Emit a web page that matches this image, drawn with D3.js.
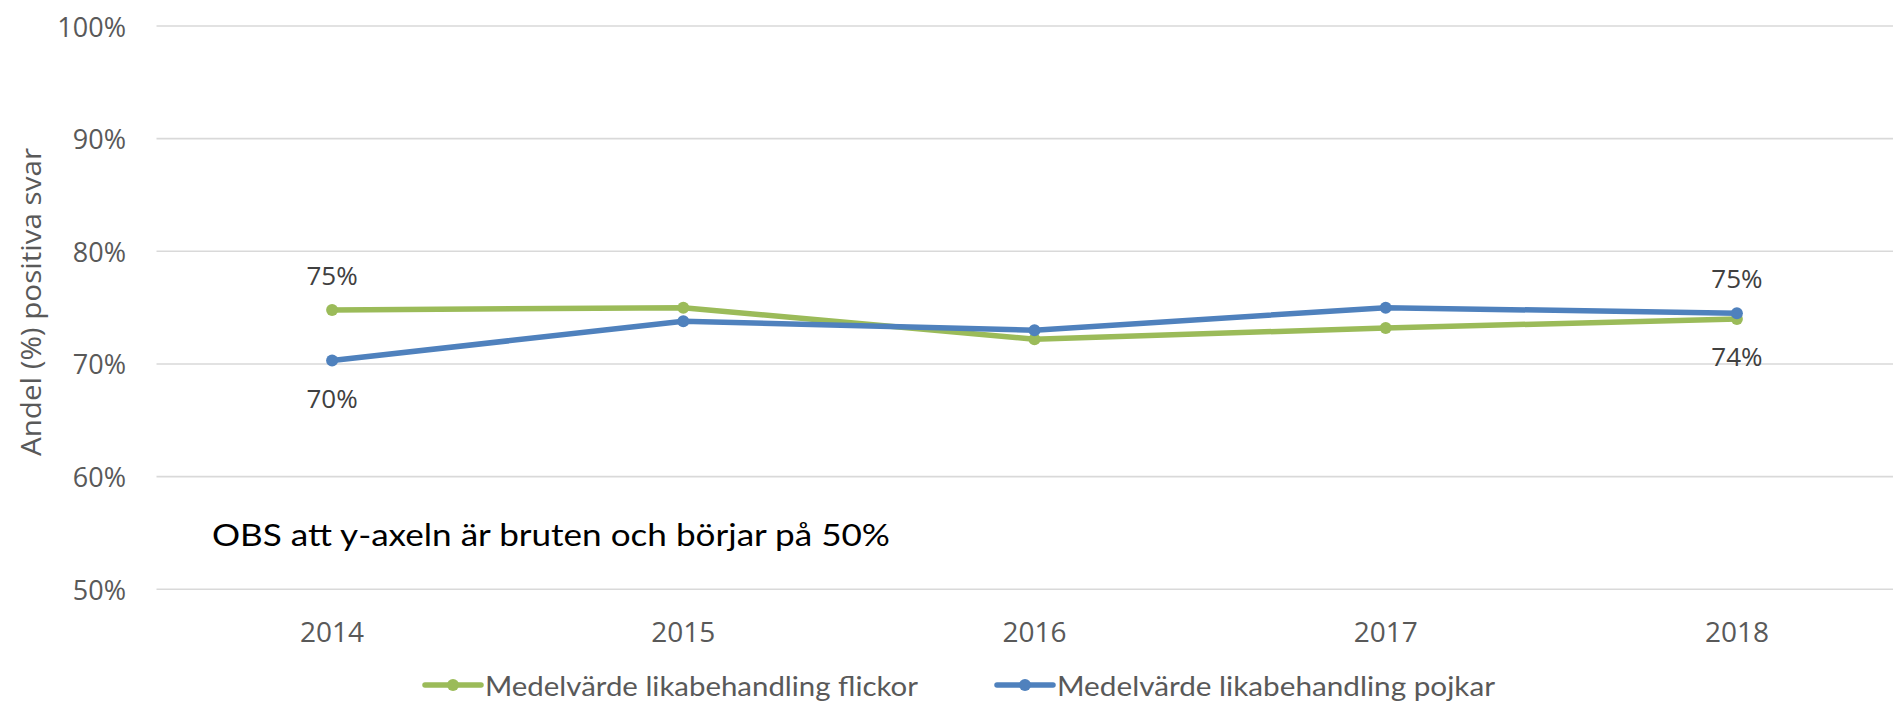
<!DOCTYPE html>
<html>
<head>
<meta charset="utf-8">
<script src="https://cdn.jsdelivr.net/npm/d3@7"></script>
<style>
  html, body { margin: 0; padding: 0; background: #fff; }
  svg { display: block; font-family: "Open Sans", "Noto Sans", sans-serif; }
</style>
</head>
<body>
<svg id="chart" width="1893" height="709"></svg>
<script>
// ---- data ----
const years = ["2014", "2015", "2016", "2017", "2018"];
const flickor = [74.8, 75.0, 72.2, 73.2, 74.0];
const pojkar  = [70.3, 73.8, 73.0, 75.0, 74.5];
const seriesNames = ["Medelvärde likabehandling flickor", "Medelvärde likabehandling pojkar"];
const yTicks = [50, 60, 70, 80, 90, 100];
const yTitle = "Andel (%) positiva svar";
const note = "OBS att y-axeln är bruten och börjar på 50%";
// data labels: [series index, year index, position]
const labelSpecs = [[0, 0, "above"], [1, 0, "below"], [1, 4, "above"], [0, 4, "below"]];

// ---- layout ----
const svg = d3.select("#chart");
const colors = ["#9BBB59", "#4F81BD"];
const plotLeft = 156.5, step = 351.2, yTop = 26, yBottom = 589.3;

const x = d3.scaleBand().domain(years).range([plotLeft, plotLeft + step * years.length]).padding(0);
const y = d3.scaleLinear().domain([50, 100]).range([yBottom, yTop]);
const cx = d => x(d) + x.bandwidth() / 2;

// gridlines
svg.append("g").selectAll("line").data(yTicks).join("line")
  .attr("x1", plotLeft).attr("x2", 1893)
  .attr("y1", d => y(d)).attr("y2", d => y(d))
  .attr("stroke", "#d9d9d9").attr("stroke-width", 1.6);

// y tick labels
svg.append("g").selectAll("text").data(yTicks).join("text")
  .attr("x", 126).attr("y", d => y(d))
  .attr("text-anchor", "end").attr("dominant-baseline", "central")
  .attr("font-size", 27).attr("fill", "#595959")
  .text(d => d + "%");

// x tick labels
svg.append("g").selectAll("text").data(years).join("text")
  .attr("x", d => cx(d)).attr("y", 631)
  .attr("text-anchor", "middle").attr("dominant-baseline", "central")
  .attr("font-size", 28).attr("fill", "#595959")
  .text(d => d);

// y axis title
const yt = svg.append("text")
  .attr("transform", `translate(30, 302) rotate(-90)`)
  .attr("text-anchor", "middle").attr("dominant-baseline", "central")
  .attr("font-size", 27).attr("fill", "#595959")
  .text(yTitle);

// annotation
const nt = svg.append("text")
  .attr("x", 212).attr("y", 534)
  .attr("dominant-baseline", "central")
  .attr("font-family", "Lato, 'Open Sans', sans-serif")
  .attr("font-size", 30).attr("fill", "#000")
  .text(note);

// lines + markers
const allSeries = [flickor, pojkar];
const line = d3.line().x((d, i) => cx(years[i])).y(d => y(d));
allSeries.forEach((vals, si) => {
  svg.append("path").datum(vals)
    .attr("d", line).attr("fill", "none")
    .attr("stroke", colors[si]).attr("stroke-width", 5.5)
    .attr("stroke-linejoin", "round").attr("stroke-linecap", "round");
  svg.append("g").selectAll("circle").data(vals).join("circle")
    .attr("cx", (d, i) => cx(years[i])).attr("cy", d => y(d))
    .attr("r", 6).attr("fill", colors[si]);
});

// data labels
svg.append("g").selectAll("text").data(labelSpecs).join("text")
  .attr("x", d => cx(years[d[1]]))
  .attr("y", d => y(allSeries[d[0]][d[1]]) + (d[2] === "above" ? -35 : 37))
  .attr("text-anchor", "middle").attr("dominant-baseline", "central")
  .attr("font-size", 26).attr("fill", "#404040")
  .text(d => Math.round(allSeries[d[0]][d[1]]) + "%");

// legend
const legendX = [425, 997];
const legendY = 685;
const legendTextW = [433, 438];
seriesNames.forEach((name, i) => {
  const g = svg.append("g");
  g.append("line").attr("x1", legendX[i]).attr("x2", legendX[i] + 56)
    .attr("y1", legendY).attr("y2", legendY)
    .attr("stroke", colors[i]).attr("stroke-width", 5.5).attr("stroke-linecap", "round");
  g.append("circle").attr("cx", legendX[i] + 28).attr("cy", legendY).attr("r", 6).attr("fill", colors[i]);
  const t = g.append("text").attr("x", legendX[i] + 60).attr("y", legendY)
    .attr("dominant-baseline", "central")
    .attr("font-family", "Lato, 'Open Sans', sans-serif")
    .attr("font-size", 27).attr("fill", "#595959").text(name);
  fit(t, legendTextW[i]);
});

function fit(sel, target) {
  const w = sel.node().getComputedTextLength();
  if (Math.abs(w - target) > 2) sel.attr("textLength", target).attr("lengthAdjust", "spacingAndGlyphs");
}
fit(nt, 678);
fit(yt, 308);
</script>
</body>
</html>
